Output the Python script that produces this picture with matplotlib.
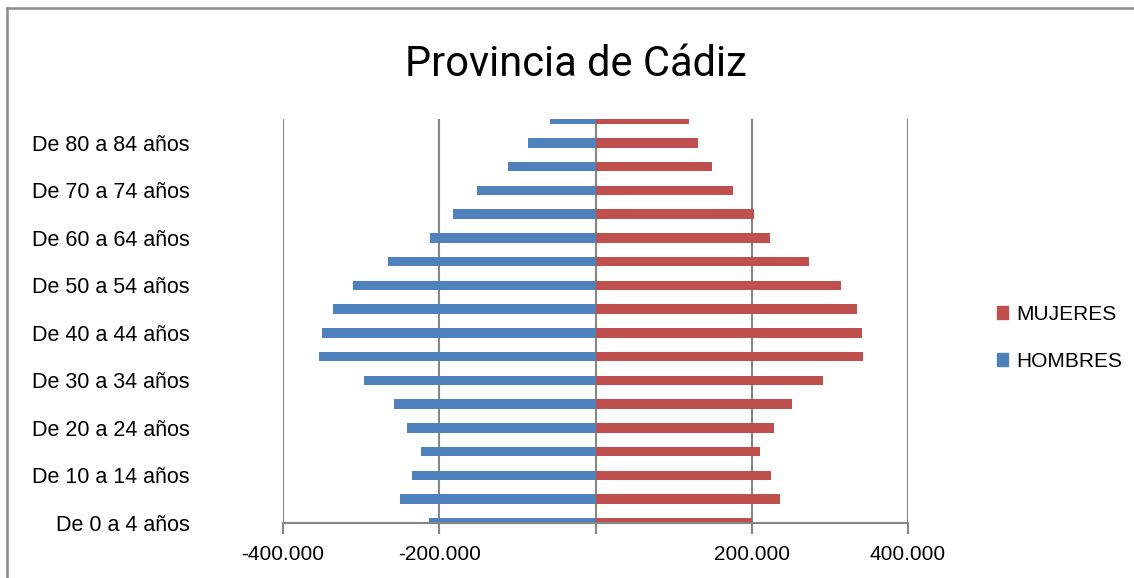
import numpy as np
import matplotlib.pyplot as plt
from matplotlib.lines import Line2D
from matplotlib.patches import Patch

# age groups, 0-4 up to 85+
grupos = ['De 0 a 4 años', 'De 5 a 9 años', 'De 10 a 14 años', 'De 15 a 19 años',
          'De 20 a 24 años', 'De 25 a 29 años', 'De 30 a 34 años', 'De 35 a 39 años',
          'De 40 a 44 años', 'De 45 a 49 años', 'De 50 a 54 años', 'De 55 a 59 años',
          'De 60 a 64 años', 'De 65 a 69 años', 'De 70 a 74 años', 'De 75 a 79 años',
          'De 80 a 84 años', '85 y más años']
hombres = [-212500, -249600, -235100, -223800, -241600, -258200, -296400, -354000,
           -350200, -335700, -309900, -265200, -212000, -182400, -151200, -111400,
           -86000, -58600]
mujeres = [200700, 235700, 224900, 210400, 228600, 251800, 291000, 342200,
           341600, 334600, 314700, 273800, 223800, 202300, 176500, 149000,
           131800, 120000]
xticks = [-400000, -200000, 0, 200000, 400000]
xlabels = ['-400.000', '-200.000', '', '200.000', '400.000']

azul = '#4F81BD'
rojo = '#C0504D'
gris = '#868686'

plt.rcParams['font.family'] = ['Liberation Sans', 'DejaVu Sans']

fig = plt.figure(figsize=(11.34, 5.78), dpi=100)
ax = fig.add_axes([283/1134, 1 - 523/578, 625/1134, 404/578])

y = np.arange(len(grupos))
ax.barh(y, hombres, height=0.4, color=azul, zorder=3)
ax.barh(y, mujeres, height=0.4, color=rojo, zorder=3)

ax.set_xlim(-400000, 400000)
ax.set_ylim(0, 17)
for xv in xticks:
    ax.axvline(xv, color=gris, lw=1.5, zorder=1)

ax.set_xticks(xticks)
ax.set_xticklabels(xlabels, fontsize=15)
ax.tick_params(axis='x', length=8, width=1.5, color=gris, pad=8)
ax.set_yticks(y[::2])
ax.set_yticklabels(grupos[::2], fontsize=15.5)
ax.tick_params(axis='y', length=0, pad=67)
for s in ['top', 'left', 'right']:
    ax.spines[s].set_visible(False)
ax.spines['bottom'].set_color(gris)
ax.spines['bottom'].set_linewidth(1.5)
ax.spines['bottom'].set_zorder(4)

fig.text(576/1134, 1 - 64/578, 'Provincia de Cádiz', ha='center', va='center',
         fontsize=30, family=['Roboto', 'Liberation Sans'])

handles = [Patch(color=rojo), Patch(color=azul)]
fig.legend(handles, ['MUJERES', 'HOMBRES'], loc='center left',
           bbox_to_anchor=(978/1134, 1 - 338/578), frameon=False, fontsize=15,
           handlelength=0.55, handleheight=0.55, handletextpad=0.4, labelspacing=1.35)

# chart border (cut at the right and bottom like the original)
fig.add_artist(Line2D([7/1134, 1], [1 - 7.5/578] * 2, color='#8a8a8a', lw=1.8))
fig.add_artist(Line2D([7/1134] * 2, [0, 1 - 7.5/578], color='#8a8a8a', lw=1.8))

fig.savefig('out.png', dpi=100)
